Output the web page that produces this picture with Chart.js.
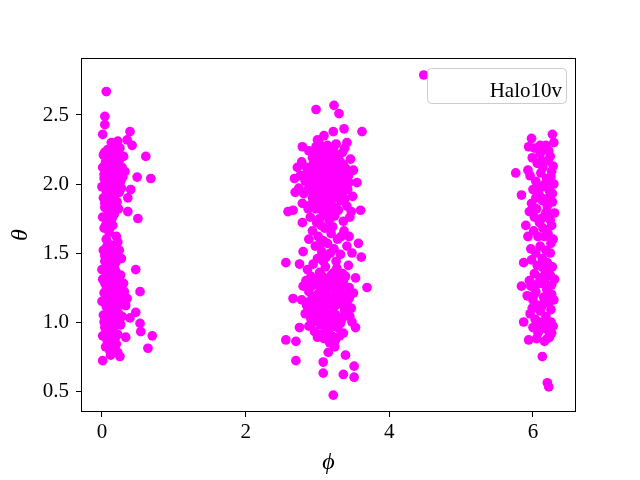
<!DOCTYPE html>
<html>
<head>
<meta charset="utf-8">
<script src="https://cdn.jsdelivr.net/npm/chart.js@4.4.1/dist/chart.umd.min.js"></script>
<style>
  html, body { margin: 0; padding: 0; background: #ffffff; }
  #wrap { width: 640px; height: 480px; }
</style>
</head>
<body>
<div id="wrap"><canvas id="c" width="640" height="480"></canvas></div>
<script>
// ---- data: [phi, theta] pairs ----
const seriesName = 'Halo10v';
const xTicks = [0, 2, 4, 6];
const xTickLabels = ['0', '2', '4', '6'];
const yTicks = [0.5, 1.0, 1.5, 2.0, 2.5];
const yTickLabels = ['0.5', '1.0', '1.5', '2.0', '2.5'];

const clusterNearZero = [
  [0.06,2.67],[0.04,2.49],[0.04,2.43],[0.01,2.36],[0.39,2.38],[0.42,2.28],[0.61,2.20],[0.68,2.04],
  [0.49,2.05],[0.40,1.96],[0.36,1.90],[0.36,1.80],[0.50,1.75],[0.13,2.30],[0.22,2.31],[0.35,2.32],
  [0.47,1.38],[0.53,1.22],[0.39,1.03],[0.47,1.07],[0.53,0.99],[0.54,0.93],[0.70,0.90],[0.64,0.81],
  [0.33,0.89],[0.25,0.75],[0.01,0.72],[0.13,0.78],
  [0.02,2.21],[0.05,2.16],[0.09,2.19],[0.14,2.24],[0.19,2.22],[0.24,2.17],[0.28,2.12],[0.01,2.12],
  [0.07,2.08],[0.12,2.14],[0.17,2.10],[0.22,2.06],[0.30,2.20],[0.03,2.04],[0.10,2.01],[0.15,2.05],
  [0.20,1.99],[0.26,2.02],[0.32,2.09],[0.00,1.98],[0.06,1.95],[0.13,1.97],[0.18,1.92],[0.24,1.94],
  [0.02,1.90],[0.08,1.88],[0.14,1.85],[0.21,1.87],[0.27,1.97],[0.04,1.83],[0.11,1.80],[0.17,1.78],
  [0.01,1.76],[0.07,1.72],[0.23,1.82],[0.29,2.05],[0.16,2.27],[0.08,2.25],[0.25,2.26],[0.11,2.11],
  [0.19,2.15],[0.05,2.01],[0.16,1.90],
  [0.04,2.23],[0.12,2.20],[0.21,2.19],[0.07,2.13],[0.15,2.17],[0.23,2.11],[0.03,2.07],[0.09,2.05],
  [0.18,2.03],[0.14,2.00],[0.08,1.97],[0.21,1.95],[0.11,1.92],[0.04,1.86],[0.19,1.84],[0.09,1.79],
  [0.14,1.75],[0.05,1.70],[0.12,1.69],
  [0.03,1.68],[0.10,1.65],[0.15,1.70],[0.06,1.60],[0.12,1.56],[0.20,1.62],[0.02,1.52],[0.08,1.50],
  [0.16,1.48],[0.24,1.52],[0.04,1.44],[0.11,1.41],[0.19,1.43],[0.27,1.46],[0.00,1.38],[0.22,1.58],
  [0.07,1.55],[0.14,1.52],[0.09,1.45],[0.17,1.40],[0.04,1.48],
  [0.05,1.36],[0.10,1.33],[0.15,1.35],[0.20,1.30],[0.26,1.34],[0.01,1.31],[0.07,1.27],[0.12,1.24],
  [0.18,1.26],[0.24,1.22],[0.30,1.28],[0.03,1.21],[0.09,1.18],[0.14,1.15],[0.21,1.17],[0.28,1.14],
  [0.00,1.15],[0.06,1.11],[0.11,1.08],[0.17,1.10],[0.23,1.06],[0.33,1.12],[0.02,1.05],[0.08,1.02],
  [0.13,0.99],[0.19,1.01],[0.26,0.98],[0.04,0.96],[0.10,0.93],[0.16,0.95],[0.22,0.91],[0.01,0.90],
  [0.07,0.87],[0.14,0.86],[0.20,0.84],[0.05,0.82],[0.11,0.79],[0.18,0.80],[0.25,1.20],[0.16,1.20],
  [0.06,1.24],[0.19,1.37],[0.13,1.29],[0.03,1.00],[0.28,1.04],[0.09,0.97],[0.31,1.22],[0.35,1.17],
  [0.08,1.35],[0.17,1.32],[0.04,1.28],[0.10,1.22],[0.16,1.23],[0.21,1.25],[0.05,1.17],[0.12,1.14],
  [0.18,1.14],[0.24,1.12],[0.08,1.06],[0.15,1.05],[0.20,1.07],[0.06,1.01],[0.11,1.00],[0.17,0.98],
  [0.07,0.93],[0.13,0.92],[0.19,0.89],[0.09,0.84],[0.15,0.82],[0.12,0.76],[0.22,0.78]
];

const clusterNearPi = [
  [2.98,2.54],[3.23,2.57],[3.30,2.51],[3.62,2.38],[3.37,2.40],[3.41,2.30],[3.22,2.38],[3.09,2.35],
  [3.00,2.32],[2.79,2.27],[2.72,2.12],[2.68,2.04],[2.69,1.94],[2.66,1.81],[3.50,2.10],[3.55,2.01],
  [3.60,1.81],[2.56,1.43],[2.75,1.42],[2.80,1.51],[2.66,1.17],[3.69,1.25],[3.61,1.47],[3.53,1.32],
  [3.57,1.57],[2.59,1.80],[2.79,1.72],[2.56,0.87],[2.70,0.86],[2.70,0.72],[2.75,0.96],[3.08,0.63],
  [3.22,0.47],[3.36,0.62],[3.51,0.60],[3.51,0.68],[3.08,0.71],[3.48,1.00],[3.53,0.96],[3.15,0.78],
  [3.39,0.76],
  [2.88,2.24],[2.98,2.27],[3.06,2.22],[3.14,2.28],[3.22,2.25],[3.30,2.21],[3.38,2.26],[2.93,2.19],
  [3.02,2.30],[3.18,2.20],[3.26,2.29],[3.10,2.25],
  [2.78,2.16],[2.85,2.12],[2.94,2.14],[3.01,2.17],[3.09,2.11],[3.16,2.15],[3.24,2.13],[3.32,2.16],
  [3.40,2.11],[3.46,2.18],[2.90,2.10],[3.05,2.13],[3.20,2.18],[3.36,2.14],
  [2.76,2.06],[2.83,2.02],[2.91,2.07],[2.99,2.04],[3.07,2.08],[3.13,2.01],[3.21,2.05],[3.28,2.09],
  [3.35,2.03],[3.43,2.06],[2.96,2.00],[3.11,2.06],[3.25,2.01],[3.39,2.08],[3.03,2.03],[3.17,2.09],
  [2.74,1.97],[2.81,1.93],[2.89,1.99],[2.97,1.95],[3.04,1.91],[3.12,1.97],[3.19,1.93],[3.27,1.98],
  [3.34,1.92],[3.42,1.96],[3.49,1.91],[2.93,1.90],[3.08,1.99],[3.23,1.95],[3.31,1.95],[3.15,1.92],
  [2.79,1.86],[2.87,1.82],[2.95,1.88],[3.02,1.84],[3.10,1.80],[3.18,1.87],[3.26,1.83],[3.33,1.88],
  [3.41,1.84],[3.47,1.80],[3.06,1.88],[3.22,1.80],[2.91,1.85],[3.14,1.84],
  [2.95,2.22],[3.03,2.25],[3.12,2.19],[3.19,2.23],[3.28,2.18],[2.99,2.10],[3.07,2.15],[3.14,2.08],
  [3.22,2.10],[3.30,2.12],[2.93,2.05],[3.01,2.08],[3.09,2.03],[3.18,2.02],[3.26,2.06],[3.33,2.00],
  [2.87,1.96],[2.95,1.93],[3.02,1.97],[3.10,1.94],[3.17,1.98],[3.25,1.90],[3.38,1.89],[2.98,1.82],
  [3.12,1.86],[3.29,1.81],[3.20,1.76],[2.85,2.08],[3.35,2.23],[3.44,2.01],
  [2.90,1.76],[2.99,1.72],[3.08,1.78],[3.16,1.74],[3.24,1.77],[3.36,1.73],[3.45,1.76],[3.03,1.75],
  [2.93,1.66],[3.01,1.62],[3.10,1.68],[3.19,1.64],[3.28,1.60],[3.37,1.66],[3.44,1.62],[2.97,1.55],
  [3.06,1.51],[3.14,1.57],[3.23,1.53],[3.32,1.49],[3.41,1.55],[3.00,1.46],[3.12,1.47],[3.26,1.44],
  [3.48,1.50],[2.88,1.60],[3.05,1.70],[3.21,1.69],[3.33,1.62],[3.08,1.59],[3.18,1.50],[3.04,1.56],
  [2.86,1.38],[2.94,1.42],[3.03,1.36],[3.11,1.40],[3.19,1.34],[3.27,1.39],[3.35,1.35],[3.43,1.41],
  [2.99,1.31],[3.15,1.30],[3.31,1.32],[3.08,1.44],
  [2.80,1.26],[2.88,1.22],[2.96,1.28],[3.04,1.24],[3.12,1.20],[3.20,1.27],[3.28,1.23],[3.36,1.29],
  [3.44,1.25],[3.50,1.21],[3.00,1.20],[3.16,1.25],[3.24,1.20],
  [2.78,1.16],[2.85,1.12],[2.93,1.18],[3.01,1.14],[3.09,1.10],[3.17,1.16],[3.25,1.12],[3.33,1.18],
  [3.41,1.14],[3.47,1.10],[3.05,1.18],[3.21,1.17],[2.97,1.11],[3.13,1.13],[3.37,1.11],
  [2.83,1.06],[2.91,1.02],[2.99,1.08],[3.07,1.04],[3.14,1.00],[3.22,1.07],[3.30,1.03],[3.38,1.08],
  [3.45,1.04],[3.03,1.01],[3.18,1.03],[3.26,1.00],[2.87,1.09],
  [2.88,0.97],[2.96,0.93],[3.04,0.98],[3.12,0.94],[3.20,0.90],[3.28,0.96],[3.36,0.92],[3.09,0.88],
  [3.17,0.85],[3.25,0.87],[3.00,0.89],[3.32,0.99],
  [2.91,1.33],[3.07,1.33],[3.23,1.36],[3.39,1.33],[2.84,1.30],[2.92,1.26],[3.08,1.27],[3.24,1.29],
  [3.32,1.25],[3.40,1.20],[2.89,1.15],[3.05,1.12],[3.20,1.12],[3.29,1.15],[3.44,1.17],[2.95,1.05],
  [3.11,1.07],[3.26,1.05],[3.34,1.02],[2.92,0.99],[3.08,0.99],[3.22,0.97],[3.15,0.92],[3.31,0.90],
  [3.24,0.82],[3.05,0.91]
];

const clusterNearTwoPi = [
  [5.76,2.08],[6.27,2.36],[6.29,2.30],[5.98,2.33],[5.94,2.27],[5.84,1.92],[5.90,1.70],[5.84,1.26],
  [5.87,1.00],[5.94,0.87],[6.13,0.75],[6.20,0.56],[6.22,0.53],[5.87,1.43],
  [6.02,2.26],[6.10,2.22],[6.18,2.28],[6.24,2.20],[6.06,2.15],[6.14,2.12],[6.21,2.17],[6.28,2.13],
  [5.99,2.19],[6.16,2.25],
  [5.96,2.06],[6.04,2.02],[6.11,2.08],[6.19,2.04],[6.26,2.09],[6.00,1.96],[6.08,1.93],[6.15,1.98],
  [6.23,1.95],[6.29,2.00],[5.93,2.10],[6.12,1.90],
  [5.98,1.86],[6.05,1.82],[6.13,1.88],[6.20,1.84],[6.27,1.87],[6.02,1.76],[6.09,1.72],[6.17,1.78],
  [6.24,1.74],[6.30,1.79],[5.95,1.80],[6.22,1.90],
  [6.01,1.66],[6.07,1.62],[6.14,1.68],[6.21,1.64],[6.28,1.60],[6.10,1.55],[6.18,1.52],[6.25,1.57],
  [6.04,1.50],[5.93,1.62],
  [5.98,1.45],[6.06,1.41],[6.13,1.46],[6.20,1.43],[6.27,1.40],[6.02,1.35],[6.10,1.32],[6.17,1.37],
  [6.24,1.34],[6.30,1.31],[5.95,1.30],
  [5.97,1.26],[6.04,1.22],[6.12,1.28],[6.19,1.24],[6.26,1.20],[6.00,1.16],[6.08,1.12],[6.15,1.18],
  [6.22,1.14],[6.29,1.16],[5.92,1.19],[6.11,1.10],
  [5.96,1.06],[6.03,1.02],[6.10,1.08],[6.18,1.04],[6.25,1.00],[6.00,0.96],[6.07,0.92],[6.14,0.98],
  [6.21,0.94],[6.28,0.97],[6.05,0.88],[6.16,0.86],[6.23,0.89],[5.99,1.10],
  [6.22,2.24],[6.12,2.17],[6.25,2.05],[6.17,2.00],[6.27,1.93],[6.08,1.98],[6.19,1.80],[6.26,1.70],
  [6.12,1.75],[6.16,1.62],[6.24,1.50],[6.13,1.40],[6.22,1.38],[6.07,1.28],[6.16,1.31],[6.26,1.27],
  [6.21,1.21],[6.14,1.13],[6.25,1.09],[6.19,0.99],[6.09,1.00],[6.26,0.92],[6.11,0.95],[6.20,0.88],
  [6.02,1.20],[5.97,1.53],[6.04,1.90],[6.10,2.28]
];

const strayPoints = [[4.48, 2.79]];

// ---- chart ----
const allPoints = [...clusterNearZero, ...clusterNearPi, ...clusterNearTwoPi, ...strayPoints]
  .map(([phi, theta]) => ({ x: phi, y: theta }));

const SERIF = "'Liberation Serif', 'DejaVu Serif', serif";

const framePlugin = {
  id: 'frameAndLegend',
  afterDatasetsDraw(chart) {
    const { ctx, chartArea: a } = chart;
    ctx.save();
    // legend box (drawn over the data, semi-transparent like matplotlib)
    const w = 139, h = 35, r = 4;
    const x0 = a.right - 10 - w + 0.5, y0 = a.top + 10 + 0.5;
    ctx.beginPath();
    ctx.moveTo(x0 + r, y0);
    ctx.lineTo(x0 + w - r, y0);
    ctx.quadraticCurveTo(x0 + w, y0, x0 + w, y0 + r);
    ctx.lineTo(x0 + w, y0 + h - r);
    ctx.quadraticCurveTo(x0 + w, y0 + h, x0 + w - r, y0 + h);
    ctx.lineTo(x0 + r, y0 + h);
    ctx.quadraticCurveTo(x0, y0 + h, x0, y0 + h - r);
    ctx.lineTo(x0, y0 + r);
    ctx.quadraticCurveTo(x0, y0, x0 + r, y0);
    ctx.closePath();
    ctx.fillStyle = 'rgba(255,255,255,0.8)';
    ctx.fill();
    ctx.strokeStyle = '#cccccc';
    ctx.lineWidth = 1;
    ctx.stroke();
    ctx.fillStyle = '#000000';
    ctx.font = '21px ' + SERIF;
    ctx.textAlign = 'right';
    ctx.textBaseline = 'alphabetic';
    ctx.fillText(seriesName, a.right - 14, a.top + 39);
    // full frame
    ctx.strokeStyle = '#000000';
    ctx.lineWidth = 1;
    ctx.strokeRect(Math.round(a.left) + 0.5, Math.round(a.top) + 0.5,
                   Math.round(a.right - a.left) - 1, Math.round(a.bottom - a.top) - 1);
    ctx.restore();
  }
};

new Chart(document.getElementById('c'), {
  type: 'scatter',
  data: {
    datasets: [{
      label: seriesName,
      data: allPoints,
      backgroundColor: '#ff00ff',
      borderColor: '#ff00ff',
      borderWidth: 0,
      pointRadius: 4.85,
      pointHoverRadius: 4.85
    }]
  },
  options: {
    responsive: false,
    animation: false,
    devicePixelRatio: 1,
    layout: { padding: { top: 58, right: 64, left: 0, bottom: 0 } },
    plugins: { legend: { display: false }, tooltip: { enabled: false } },
    scales: {
      x: {
        type: 'linear',
        min: -0.292,
        max: 6.599,
        afterBuildTicks: s => { s.ticks = xTicks.map(v => ({ value: v })); },
        afterFit: s => { s.height = 68; },
        ticks: {
          color: '#000',
          font: { family: SERIF, size: 21 },
          padding: 3,
          maxRotation: 0,
          callback: (v) => xTickLabels[xTicks.indexOf(v)]
        },
        grid: { display: true, drawOnChartArea: false, drawTicks: true, tickLength: 5, color: '#000', tickWidth: 1 },
        border: { display: false },
        title: { display: true, text: 'ϕ', color: '#000', font: { family: SERIF, size: 24, style: 'italic' }, padding: { top: 0, bottom: 3 } }
      },
      y: {
        type: 'linear',
        min: 0.348,
        max: 2.913,
        afterBuildTicks: s => { s.ticks = yTicks.map(v => ({ value: v })); },
        afterFit: s => { s.width = 81; },
        ticks: {
          color: '#000',
          font: { family: SERIF, size: 21 },
          padding: 7,
          callback: (v) => yTickLabels[yTicks.indexOf(v)]
        },
        grid: { display: true, drawOnChartArea: false, drawTicks: true, tickLength: 5, color: '#000', tickWidth: 1 },
        border: { display: false },
        title: { display: true, text: 'θ', color: '#000', font: { family: SERIF, size: 24, style: 'italic' }, padding: { top: 6, bottom: 0 } }
      }
    }
  },
  plugins: [framePlugin]
});
</script>
</body>
</html>
